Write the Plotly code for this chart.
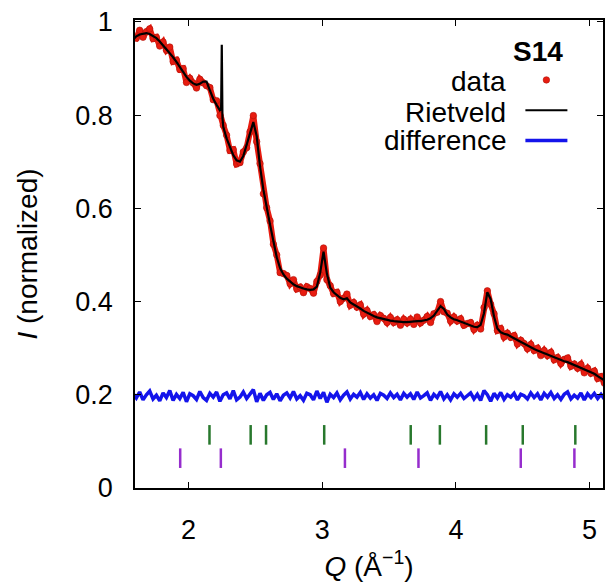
import numpy as np
import plotly.graph_objects as go

# ---- data ----
Q_START, Q_STEP, N_PTS = 1.585, 0.025, 142

FIT_I = [
    0.962, 0.969, 0.973, 0.975, 0.976, 0.974, 0.970, 0.965, 0.958, 0.950,
    0.942, 0.934, 0.924, 0.914, 0.903, 0.892, 0.882, 0.874, 0.868, 0.865,
    0.867, 0.872, 0.872, 0.853, 0.835, 0.822, 0.810, 0.775, 0.750, 0.730,
    0.714, 0.703, 0.700, 0.712, 0.735, 0.760, 0.785, 0.755, 0.690, 0.640,
    0.598, 0.565, 0.530, 0.495, 0.472, 0.458, 0.449, 0.442, 0.437, 0.433,
    0.430, 0.428, 0.426, 0.425, 0.426, 0.432, 0.462, 0.507, 0.460, 0.430,
    0.420, 0.413, 0.408, 0.405, 0.407, 0.398, 0.394, 0.390, 0.385, 0.380,
    0.376, 0.372, 0.369, 0.366, 0.364, 0.362, 0.360, 0.359, 0.358, 0.357,
    0.357, 0.356, 0.356, 0.357, 0.358, 0.358, 0.358, 0.359, 0.361, 0.364,
    0.370, 0.380, 0.390, 0.384, 0.372, 0.366, 0.362, 0.360, 0.357, 0.354,
    0.351, 0.348, 0.346, 0.345, 0.350, 0.375, 0.420, 0.405, 0.368, 0.342,
    0.334, 0.331, 0.329, 0.325, 0.321, 0.317, 0.313, 0.309, 0.305, 0.301,
    0.298, 0.295, 0.292, 0.289, 0.286, 0.283, 0.280, 0.277, 0.274, 0.272,
    0.270, 0.267, 0.264, 0.261, 0.258, 0.255, 0.252, 0.249, 0.245, 0.240,
    0.235, 0.231,
]

# sharp reflection that only the fit shows
SPIKE_Q = [2.244, 2.249, 2.254]
SPIKE_I = [0.812, 0.951, 0.795]

# residual (data - fit), in units of 1e-3
RESID_MILLI = [
    6, -4, 9, -8, 3, 11, -6, 2, -10, 7, -3, 12, -9, 4, -5, 8, -12, 5, 1, -7,
    10, -3, -9, 6, -2, 9, -11, 3, 7, -6, 12, -8, -2, 9, -5, 4, 14, -12, 6, -9,
    3, 8, -7, 5, -10, 2, 7, -4, 10, -6, 1, -9, 6, 3, -8, 11, -5, 8, -13, 4,
    -3, 7, -8, 2, 9, -6, 4, -2, 8, -7, 5, -4, 3, -9, 6, 2, -5, 7, -3, 4,
    -8, 6, -2, 5, -7, 9, -4, 1, 7, -9, 4, -3, 10, -6, 3, -8, 5, -2, 6, -5,
    2, 7, -6, 4, -9, 12, 3, -11, 6, -4, 8, -7, 3, -2, 6, -8, 4, 1, -6, 7,
    -3, 5, -8, 6, -2, 8, -5, 3, -7, 4, 9, -6, 2, -4, 7, -8, 5, -3, 6, -5,
    4, -6,
]
DIFF_OFFSET = 0.197

# Bragg reflection positions of two phases
BRAGG_GREEN_Q = [2.157, 2.465, 2.58, 3.015, 3.662, 3.88, 4.226, 4.50, 4.893]
BRAGG_PURPLE_Q = [1.938, 2.242, 3.17, 3.72, 4.485, 4.886]
BRAGG_GREEN_LEVEL = 0.114
BRAGG_PURPLE_LEVEL = 0.064

X_TICKS = [2, 3, 4, 5]
Y_TICKS = [0, 0.2, 0.4, 0.6, 0.8, 1]
Y_TICK_TEXT = ["0", "0.2", "0.4", "0.6", "0.8", "1"]
SAMPLE = "S14"

# ---- derived series ----
q = np.round(Q_START + Q_STEP * np.arange(N_PTS), 4)
fit = np.array(FIT_I)
resid = np.array(RESID_MILLI) / 1000.0
data = fit + resid
diff = DIFF_OFFSET + (data - fit)

fit_q = np.concatenate([q, SPIKE_Q])
fit_i = np.concatenate([fit, SPIKE_I])
order = np.argsort(fit_q)
fit_q, fit_i = fit_q[order], fit_i[order]

FONT = "Liberation Sans"
RED = "rgb(232,28,16)"

fig = go.Figure()
# dense band of observed points (drawn as a thick trace under the markers)
fig.add_trace(go.Scatter(
    x=q, y=data, mode="lines", name="",
    line=dict(color=RED, width=6), showlegend=False, hoverinfo="skip",
))
fig.add_trace(go.Scatter(
    x=q, y=data, mode="markers", name="",
    marker=dict(color=RED, size=6.5, line=dict(width=0.6, color="rgb(175,20,12)")),
    showlegend=True,
))
fig.add_trace(go.Scatter(
    x=fit_q, y=fit_i, mode="lines", name="",
    line=dict(color="black", width=2.2),
))
fig.add_trace(go.Scatter(
    x=q, y=diff, mode="lines", name="",
    line=dict(color="rgb(20,20,235)", width=3.5),
))
fig.add_trace(go.Scatter(
    x=BRAGG_GREEN_Q, y=[BRAGG_GREEN_LEVEL] * len(BRAGG_GREEN_Q), mode="markers",
    marker=dict(symbol="line-ns", size=14, line=dict(color="rgb(40,120,45)", width=2.5)),
    showlegend=False,
))
fig.add_trace(go.Scatter(
    x=BRAGG_PURPLE_Q, y=[BRAGG_PURPLE_LEVEL] * len(BRAGG_PURPLE_Q), mode="markers",
    marker=dict(symbol="line-ns", size=14, line=dict(color="rgb(150,45,205)", width=2.5)),
    showlegend=False,
))

axis_common = dict(
    showline=True, linecolor="black", linewidth=1.5, mirror="ticks",
    ticks="inside", ticklen=6, tickwidth=1, tickcolor="black",
    showgrid=False, zeroline=False, automargin=False,
    tickfont=dict(family=FONT, size=27, color="black"),
)
fig.update_xaxes(
    range=[1.6, 5.1], tickvals=X_TICKS, ticklabelstandoff=17,
    title=dict(text="<i>Q</i> (Å<sup>−1</sup>)", font=dict(family=FONT, size=28, color="black"), standoff=12),
    **axis_common,
)
fig.update_yaxes(
    range=[0, 1.004], tickvals=Y_TICKS, ticktext=Y_TICK_TEXT, ticklabelstandoff=15,
    title=dict(text="<i>I</i> (normalized)", font=dict(family=FONT, size=28, color="black"), standoff=30),
    **axis_common,
)

# legend texts drawn to the left of the keys, as in the reference
LEG_TEXT = ["data", "Rietveld", "difference"]
LEG_Y = [0.868, 0.802, 0.742]
annotations = [dict(
    text=f"<b>{SAMPLE}</b>", x=0.918, y=0.932, xref="paper", yref="paper",
    xanchor="right", yanchor="middle", showarrow=False,
    font=dict(family=FONT, size=28, color="black"),
)]
for t, yy in zip(LEG_TEXT, LEG_Y):
    annotations.append(dict(
        text=t, x=0.796, y=yy, xref="paper", yref="paper",
        xanchor="right", yanchor="middle", showarrow=False,
        font=dict(family=FONT, size=28, color="black"),
    ))

fig.update_layout(
    width=605, height=584,
    margin=dict(l=135, r=2, t=20, b=96),
    paper_bgcolor="white", plot_bgcolor="white",
    font=dict(family=FONT, color="black"),
    showlegend=True,
    legend=dict(
        x=0.8235, y=0.915, xanchor="left", yanchor="top",
        bgcolor="rgba(0,0,0,0)", borderwidth=0,
        font=dict(family=FONT, size=21), itemwidth=42,
        traceorder="normal",
    ),
    annotations=annotations,
)

fig.write_html(
    "out.html",
    config={"displayModeBar": False},
    post_script="document.body.style.margin='0px';",
)
